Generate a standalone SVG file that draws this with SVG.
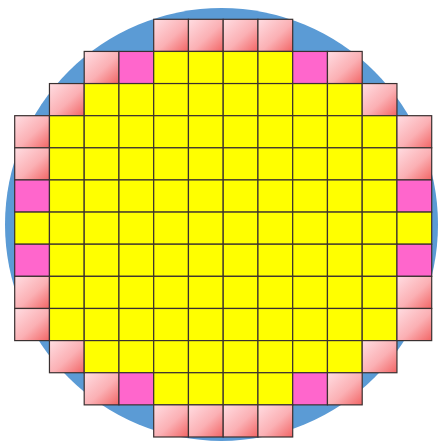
<svg xmlns="http://www.w3.org/2000/svg" width="442" height="443" viewBox="0 0 442 443">
<style>
.c{stroke:#3a3030;stroke-width:1.2}
.y{fill:#FFFF00}
.m{fill:#FF66CC}
.p{fill:url(#pg)}
</style>
<defs>
<linearGradient id="pg" x1="0" y1="0" x2="1" y2="1">
<stop offset="0" stop-color="#FFDDE2"/>
<stop offset="0.55" stop-color="#FBB0B4"/>
<stop offset="1" stop-color="#F26565"/>
</linearGradient>
</defs>
<rect width="442" height="443" fill="#ffffff"/>
<circle id="wafer" cx="221.5" cy="224.5" r="216.5" fill="#5B9BD5"/>
<g id="dies">
<!-- row 0 -->
<rect class="c p" x="153.7" y="19.3" width="34.75" height="32.13"/>
<rect class="c p" x="188.45" y="19.3" width="34.75" height="32.13"/>
<rect class="c p" x="223.2" y="19.3" width="34.75" height="32.13"/>
<rect class="c p" x="257.95" y="19.3" width="34.75" height="32.13"/>
<!-- row 1 -->
<rect class="c p" x="84.2" y="51.43" width="34.75" height="32.13"/>
<rect class="c m" x="118.95" y="51.43" width="34.75" height="32.13"/>
<rect class="c y" x="153.7" y="51.43" width="34.75" height="32.13"/>
<rect class="c y" x="188.45" y="51.43" width="34.75" height="32.13"/>
<rect class="c y" x="223.2" y="51.43" width="34.75" height="32.13"/>
<rect class="c y" x="257.95" y="51.43" width="34.75" height="32.13"/>
<rect class="c m" x="292.7" y="51.43" width="34.75" height="32.13"/>
<rect class="c p" x="327.45" y="51.43" width="34.75" height="32.13"/>
<!-- row 2 -->
<rect class="c p" x="49.45" y="83.56" width="34.75" height="32.13"/>
<rect class="c y" x="84.2" y="83.56" width="34.75" height="32.13"/>
<rect class="c y" x="118.95" y="83.56" width="34.75" height="32.13"/>
<rect class="c y" x="153.7" y="83.56" width="34.75" height="32.13"/>
<rect class="c y" x="188.45" y="83.56" width="34.75" height="32.13"/>
<rect class="c y" x="223.2" y="83.56" width="34.75" height="32.13"/>
<rect class="c y" x="257.95" y="83.56" width="34.75" height="32.13"/>
<rect class="c y" x="292.7" y="83.56" width="34.75" height="32.13"/>
<rect class="c y" x="327.45" y="83.56" width="34.75" height="32.13"/>
<rect class="c p" x="362.2" y="83.56" width="34.75" height="32.13"/>
<!-- row 3 -->
<rect class="c p" x="14.7" y="115.69" width="34.75" height="32.13"/>
<rect class="c y" x="49.45" y="115.69" width="34.75" height="32.13"/>
<rect class="c y" x="84.2" y="115.69" width="34.75" height="32.13"/>
<rect class="c y" x="118.95" y="115.69" width="34.75" height="32.13"/>
<rect class="c y" x="153.7" y="115.69" width="34.75" height="32.13"/>
<rect class="c y" x="188.45" y="115.69" width="34.75" height="32.13"/>
<rect class="c y" x="223.2" y="115.69" width="34.75" height="32.13"/>
<rect class="c y" x="257.95" y="115.69" width="34.75" height="32.13"/>
<rect class="c y" x="292.7" y="115.69" width="34.75" height="32.13"/>
<rect class="c y" x="327.45" y="115.69" width="34.75" height="32.13"/>
<rect class="c y" x="362.2" y="115.69" width="34.75" height="32.13"/>
<rect class="c p" x="396.95" y="115.69" width="34.75" height="32.13"/>
<!-- row 4 -->
<rect class="c p" x="14.7" y="147.82" width="34.75" height="32.13"/>
<rect class="c y" x="49.45" y="147.82" width="34.75" height="32.13"/>
<rect class="c y" x="84.2" y="147.82" width="34.75" height="32.13"/>
<rect class="c y" x="118.95" y="147.82" width="34.75" height="32.13"/>
<rect class="c y" x="153.7" y="147.82" width="34.75" height="32.13"/>
<rect class="c y" x="188.45" y="147.82" width="34.75" height="32.13"/>
<rect class="c y" x="223.2" y="147.82" width="34.75" height="32.13"/>
<rect class="c y" x="257.95" y="147.82" width="34.75" height="32.13"/>
<rect class="c y" x="292.7" y="147.82" width="34.75" height="32.13"/>
<rect class="c y" x="327.45" y="147.82" width="34.75" height="32.13"/>
<rect class="c y" x="362.2" y="147.82" width="34.75" height="32.13"/>
<rect class="c p" x="396.95" y="147.82" width="34.75" height="32.13"/>
<!-- row 5 -->
<rect class="c m" x="14.7" y="179.95" width="34.75" height="32.13"/>
<rect class="c y" x="49.45" y="179.95" width="34.75" height="32.13"/>
<rect class="c y" x="84.2" y="179.95" width="34.75" height="32.13"/>
<rect class="c y" x="118.95" y="179.95" width="34.75" height="32.13"/>
<rect class="c y" x="153.7" y="179.95" width="34.75" height="32.13"/>
<rect class="c y" x="188.45" y="179.95" width="34.75" height="32.13"/>
<rect class="c y" x="223.2" y="179.95" width="34.75" height="32.13"/>
<rect class="c y" x="257.95" y="179.95" width="34.75" height="32.13"/>
<rect class="c y" x="292.7" y="179.95" width="34.75" height="32.13"/>
<rect class="c y" x="327.45" y="179.95" width="34.75" height="32.13"/>
<rect class="c y" x="362.2" y="179.95" width="34.75" height="32.13"/>
<rect class="c m" x="396.95" y="179.95" width="34.75" height="32.13"/>
<!-- row 6 -->
<rect class="c y" x="14.7" y="212.08" width="34.75" height="32.13"/>
<rect class="c y" x="49.45" y="212.08" width="34.75" height="32.13"/>
<rect class="c y" x="84.2" y="212.08" width="34.75" height="32.13"/>
<rect class="c y" x="118.95" y="212.08" width="34.75" height="32.13"/>
<rect class="c y" x="153.7" y="212.08" width="34.75" height="32.13"/>
<rect class="c y" x="188.45" y="212.08" width="34.75" height="32.13"/>
<rect class="c y" x="223.2" y="212.08" width="34.75" height="32.13"/>
<rect class="c y" x="257.95" y="212.08" width="34.75" height="32.13"/>
<rect class="c y" x="292.7" y="212.08" width="34.75" height="32.13"/>
<rect class="c y" x="327.45" y="212.08" width="34.75" height="32.13"/>
<rect class="c y" x="362.2" y="212.08" width="34.75" height="32.13"/>
<rect class="c y" x="396.95" y="212.08" width="34.75" height="32.13"/>
<!-- row 7 -->
<rect class="c m" x="14.7" y="244.21" width="34.75" height="32.13"/>
<rect class="c y" x="49.45" y="244.21" width="34.75" height="32.13"/>
<rect class="c y" x="84.2" y="244.21" width="34.75" height="32.13"/>
<rect class="c y" x="118.95" y="244.21" width="34.75" height="32.13"/>
<rect class="c y" x="153.7" y="244.21" width="34.75" height="32.13"/>
<rect class="c y" x="188.45" y="244.21" width="34.75" height="32.13"/>
<rect class="c y" x="223.2" y="244.21" width="34.75" height="32.13"/>
<rect class="c y" x="257.95" y="244.21" width="34.75" height="32.13"/>
<rect class="c y" x="292.7" y="244.21" width="34.75" height="32.13"/>
<rect class="c y" x="327.45" y="244.21" width="34.75" height="32.13"/>
<rect class="c y" x="362.2" y="244.21" width="34.75" height="32.13"/>
<rect class="c m" x="396.95" y="244.21" width="34.75" height="32.13"/>
<!-- row 8 -->
<rect class="c p" x="14.7" y="276.34" width="34.75" height="32.13"/>
<rect class="c y" x="49.45" y="276.34" width="34.75" height="32.13"/>
<rect class="c y" x="84.2" y="276.34" width="34.75" height="32.13"/>
<rect class="c y" x="118.95" y="276.34" width="34.75" height="32.13"/>
<rect class="c y" x="153.7" y="276.34" width="34.75" height="32.13"/>
<rect class="c y" x="188.45" y="276.34" width="34.75" height="32.13"/>
<rect class="c y" x="223.2" y="276.34" width="34.75" height="32.13"/>
<rect class="c y" x="257.95" y="276.34" width="34.75" height="32.13"/>
<rect class="c y" x="292.7" y="276.34" width="34.75" height="32.13"/>
<rect class="c y" x="327.45" y="276.34" width="34.75" height="32.13"/>
<rect class="c y" x="362.2" y="276.34" width="34.75" height="32.13"/>
<rect class="c p" x="396.95" y="276.34" width="34.75" height="32.13"/>
<!-- row 9 -->
<rect class="c p" x="14.7" y="308.47" width="34.75" height="32.13"/>
<rect class="c y" x="49.45" y="308.47" width="34.75" height="32.13"/>
<rect class="c y" x="84.2" y="308.47" width="34.75" height="32.13"/>
<rect class="c y" x="118.95" y="308.47" width="34.75" height="32.13"/>
<rect class="c y" x="153.7" y="308.47" width="34.75" height="32.13"/>
<rect class="c y" x="188.45" y="308.47" width="34.75" height="32.13"/>
<rect class="c y" x="223.2" y="308.47" width="34.75" height="32.13"/>
<rect class="c y" x="257.95" y="308.47" width="34.75" height="32.13"/>
<rect class="c y" x="292.7" y="308.47" width="34.75" height="32.13"/>
<rect class="c y" x="327.45" y="308.47" width="34.75" height="32.13"/>
<rect class="c y" x="362.2" y="308.47" width="34.75" height="32.13"/>
<rect class="c p" x="396.95" y="308.47" width="34.75" height="32.13"/>
<!-- row 10 -->
<rect class="c p" x="49.45" y="340.6" width="34.75" height="32.13"/>
<rect class="c y" x="84.2" y="340.6" width="34.75" height="32.13"/>
<rect class="c y" x="118.95" y="340.6" width="34.75" height="32.13"/>
<rect class="c y" x="153.7" y="340.6" width="34.75" height="32.13"/>
<rect class="c y" x="188.45" y="340.6" width="34.75" height="32.13"/>
<rect class="c y" x="223.2" y="340.6" width="34.75" height="32.13"/>
<rect class="c y" x="257.95" y="340.6" width="34.75" height="32.13"/>
<rect class="c y" x="292.7" y="340.6" width="34.75" height="32.13"/>
<rect class="c y" x="327.45" y="340.6" width="34.75" height="32.13"/>
<rect class="c p" x="362.2" y="340.6" width="34.75" height="32.13"/>
<!-- row 11 -->
<rect class="c p" x="84.2" y="372.73" width="34.75" height="32.13"/>
<rect class="c m" x="118.95" y="372.73" width="34.75" height="32.13"/>
<rect class="c y" x="153.7" y="372.73" width="34.75" height="32.13"/>
<rect class="c y" x="188.45" y="372.73" width="34.75" height="32.13"/>
<rect class="c y" x="223.2" y="372.73" width="34.75" height="32.13"/>
<rect class="c y" x="257.95" y="372.73" width="34.75" height="32.13"/>
<rect class="c m" x="292.7" y="372.73" width="34.75" height="32.13"/>
<rect class="c p" x="327.45" y="372.73" width="34.75" height="32.13"/>
<!-- row 12 -->
<rect class="c p" x="153.7" y="404.86" width="34.75" height="32.13"/>
<rect class="c p" x="188.45" y="404.86" width="34.75" height="32.13"/>
<rect class="c p" x="223.2" y="404.86" width="34.75" height="32.13"/>
<rect class="c p" x="257.95" y="404.86" width="34.75" height="32.13"/>
</g>
</svg>
